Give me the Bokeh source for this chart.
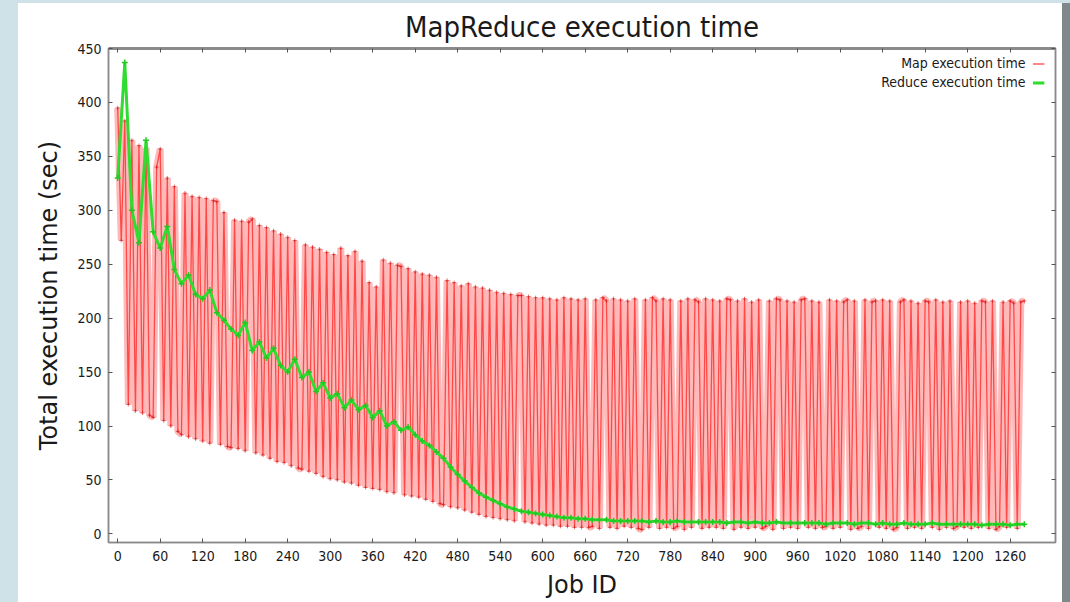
from bokeh.plotting import figure
from bokeh.models import Range1d, LinearAxis, Legend, LegendItem, Label, FixedTicker, Div
from bokeh.layouts import row, column
from bokeh.embed import file_html
from bokeh.resources import INLINE

# ---------------- data ----------------
map_jobs = list(range(0, 1281, 5))
map_time = [
    395, 272, 383, 120, 365, 114, 360, 112, 358, 110, 108, 340,
    357, 105, 330, 100, 322, 95, 92, 316, 90, 313, 88, 312,
    86, 311, 84, 309, 308, 83, 298, 81, 80, 291, 79, 290,
    77, 289, 292, 75, 286, 73, 284, 70, 281, 67, 278, 66,
    275, 63, 272, 61, 60, 268, 58, 266, 56, 264, 53, 261,
    51, 259, 50, 265, 48, 258, 47, 262, 45, 253, 43, 233,
    42, 229, 41, 254, 39, 251, 38, 249, 248, 36, 246, 35,
    243, 34, 241, 32, 240, 30, 238, 28, 27, 235, 25, 233,
    24, 230, 22, 232, 20, 229, 18, 228, 16, 226, 15, 224,
    14, 223, 13, 222, 12, 221, 221, 11, 220, 10, 219, 9,
    219, 8, 218, 8, 217, 7, 219, 7, 218, 6, 217, 6,
    218, 6, 7, 217, 5, 219, 216, 6, 218, 5, 217, 7,
    216, 6, 218, 5, 4, 217, 6, 219, 216, 5, 218, 6,
    217, 5, 7, 216, 4, 218, 6, 217, 215, 5, 218, 6,
    217, 6, 216, 5, 218, 217, 4, 216, 6, 218, 5, 215,
    6, 217, 5, 7, 216, 4, 218, 217, 5, 216, 6, 215,
    5, 217, 218, 6, 216, 5, 215, 6, 7, 217, 5, 216,
    6, 215, 217, 4, 216, 5, 7, 217, 5, 215, 216, 6,
    217, 5, 216, 4, 6, 215, 217, 5, 216, 6, 214, 5,
    216, 215, 6, 217, 4, 215, 6, 216, 5, 7, 215, 6,
    216, 5, 214, 6, 216, 215, 5, 216, 4, 7, 215, 6,
    216, 214, 5, 215, 216,
]
reduce_jobs = list(range(0, 1281, 10))
reduce_time = [
    330, 437, 300, 270, 365, 280, 265, 285, 245, 232, 240, 222,
    218, 226, 205, 198, 190, 184, 196, 170, 178, 163, 172, 156,
    150, 162, 145, 150, 132, 140, 126, 130, 117, 124, 115, 119,
    108, 114, 100, 104, 96, 99, 92, 86, 82, 76, 70, 62,
    55, 49, 43, 38, 34, 31, 28, 25, 23, 21, 20, 19,
    18, 17, 16, 15, 15, 14, 14, 13, 13, 13, 12, 12,
    12, 12, 12, 11, 12, 11, 11, 12, 11, 11, 11, 11,
    11, 11, 10, 11, 11, 10, 11, 10, 10, 11, 10, 10,
    10, 10, 10, 10, 9, 10, 10, 10, 9, 10, 10, 9,
    10, 9, 9, 10, 9, 9, 9, 10, 9, 9, 9, 9,
    9, 9, 8, 9, 9, 9, 8, 9, 9,
]
x_ticks = list(range(0, 1261, 60))
y_ticks = list(range(0, 451, 50))
series_names = ["Map execution time", "Reduce execution time"]

COND = "DejaVu Sans Condensed"

fig = figure(width=1044, height=599, output_backend="svg", toolbar_location=None,
             x_range=Range1d(-13, 1324), y_range=Range1d(-8, 450),
             min_border_left=90, min_border_right=7, min_border_top=45,
             min_border_bottom=60, margin=0)

fig.title.text = "MapReduce execution time"
fig.title.align = "center"
fig.title.text_font = COND
fig.title.text_font_size = "29px"
fig.title.text_font_style = "normal"
fig.title.text_color = "#1a1a1a"
fig.title.standoff = 9

fig.background_fill_color = "white"
fig.border_fill_color = "white"
fig.outline_line_color = "#8a8a8a"
fig.outline_line_width = 1.5
fig.xgrid.visible = False
fig.ygrid.visible = False

for ax, tks in ((fig.xaxis[0], x_ticks), (fig.yaxis[0], y_ticks)):
    ax.ticker = FixedTicker(ticks=tks)
    ax.major_tick_in = 4
    ax.major_tick_out = 0
    ax.minor_tick_line_color = None
    ax.axis_line_color = "#8a8a8a"
    ax.axis_line_width = 1.5
    ax.major_tick_line_color = "#555555"
    ax.major_label_text_font = COND
    ax.major_label_text_font_size = "14px"
    ax.major_label_text_color = "#1a1a1a"
    ax.axis_label_text_font = "DejaVu Sans"
    ax.axis_label_text_font_style = "normal"
    ax.axis_label_text_color = "#1a1a1a"

fig.xaxis.axis_label = "Job ID"
fig.xaxis.axis_label_text_font_size = "24px"
fig.xaxis.major_label_standoff = 8
fig.xaxis.axis_label_standoff = 7
fig.yaxis.axis_label = "Total execution time (sec)"
fig.yaxis.axis_label_text_font_size = "24px"
fig.yaxis.major_label_standoff = 7
fig.yaxis.axis_label_standoff = 11

top_ax = LinearAxis(ticker=FixedTicker(ticks=x_ticks), major_tick_in=4, major_tick_out=0,
                    minor_tick_line_color=None, major_label_text_font_size="1px",
                    major_label_text_color=None,
                    axis_line_color="#8a8a8a", axis_line_width=3,
                    major_tick_line_color="#555555", major_label_standoff=0)
right_ax = LinearAxis(ticker=FixedTicker(ticks=y_ticks), major_tick_in=4, major_tick_out=0,
                      minor_tick_line_color=None, major_label_text_font_size="1px",
                      major_label_text_color=None,
                      axis_line_color="#8a8a8a", axis_line_width=1.5,
                      major_tick_line_color="#555555", major_label_standoff=0)
fig.add_layout(top_ax, "above")
fig.add_layout(right_ax, "right")

# map series: pale wide strokes + thinner red strokes + small markers
fig.line(map_jobs, map_time, line_color="#ff4848", line_alpha=0.38, line_width=7)
r_map = fig.line(map_jobs, map_time, line_color="#ff1a1a", line_alpha=0.7, line_width=1.3)
fig.scatter(map_jobs, map_time, marker="cross", size=4, line_color="#d01010", line_alpha=0.6)

r_green = fig.line(reduce_jobs, reduce_time, line_color="#2fdc2f", line_width=3)
fig.scatter(reduce_jobs, reduce_time, marker="cross", size=6, line_color="#22c822", line_width=1.5)

legend = Legend(items=[LegendItem(label="\u2009", renderers=[r_map]),
                       LegendItem(label="\u2009", renderers=[r_green])],
                location="top_right", glyph_width=12, glyph_height=15,
                label_standoff=0, padding=2, spacing=4,
                margin=8, border_line_color=None, background_fill_alpha=0,
                label_text_font_size="13px", label_height=15, label_width=1)
fig.add_layout(legend)

for i, name in enumerate(series_names):
    fig.add_layout(Label(x=917, y=480 - 19 * i, x_units="screen", y_units="screen",
                         text=name, text_align="right", text_baseline="middle",
                         text_font=COND, text_font_size="14px", text_color="#1a1a1a"))

# light-blue slide border on the left/top and grey edge on the right
top_strip = Div(width=1070, height=3, margin=0, styles={"background-color": "#cfe2e8"})
left_strip = Div(width=18, height=599, margin=0, styles={"background-color": "#cfe2e8"})
right_strip = Div(width=8, height=599, margin=0, styles={"background-color": "#7f898b"})

p = column(top_strip, row(left_strip, fig, right_strip, spacing=0, margin=0),
           spacing=0, margin=0)

open("out.html", "w").write(file_html(p, INLINE))
